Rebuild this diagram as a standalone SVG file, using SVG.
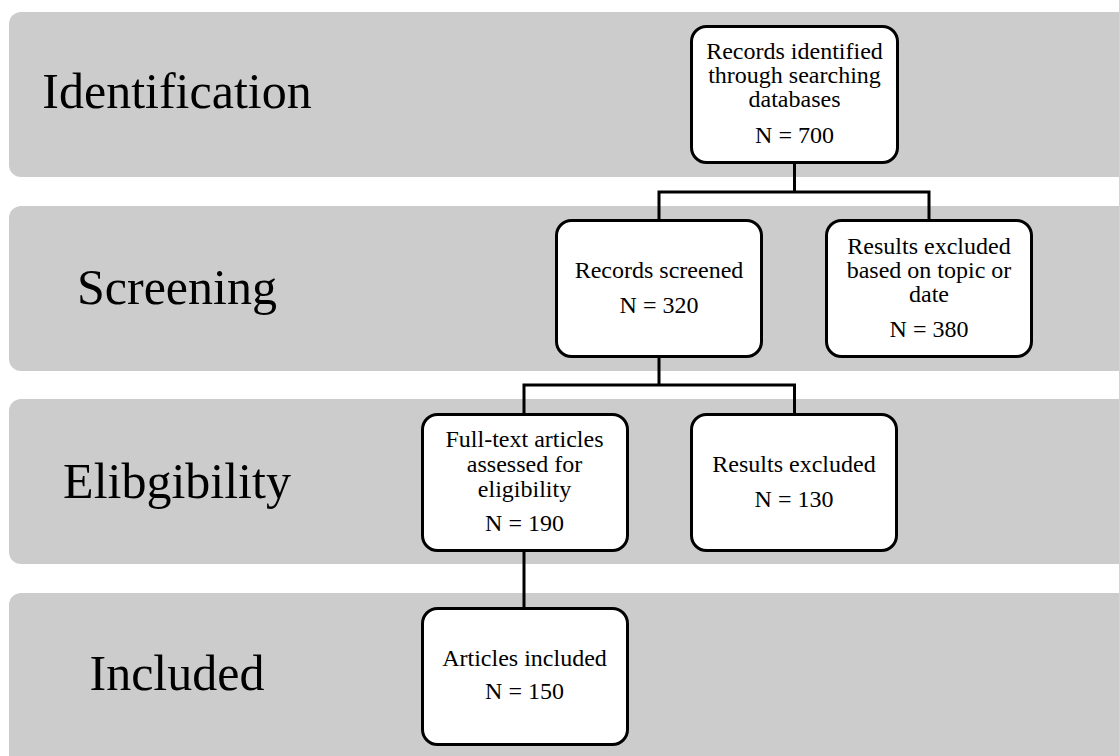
<svg xmlns="http://www.w3.org/2000/svg" width="1119" height="756" viewBox="0 0 1119 756">
  <style>
    .band { fill: #cccccc; }
    .stage { font-family: 'Liberation Serif', 'DejaVu Serif', serif; font-size: 50px; fill: #000; text-anchor: middle; }
    .box { fill: #ffffff; stroke: #000000; stroke-width: 3; }
    .lbl { font-family: 'Liberation Serif', 'DejaVu Serif', serif; font-size: 24px; fill: #000; text-anchor: middle; }
    .conn { fill: none; stroke: #000000; stroke-width: 3; }
  </style>
  <rect width="1119" height="756" fill="#ffffff"/>

  <g id="bands">
    <g id="band-identification">
      <rect class="band" x="9" y="12" width="1130" height="165" rx="12" ry="12"/>
      <text class="stage" x="177" y="108">Identification</text>
    </g>
    <g id="band-screening">
      <rect class="band" x="9" y="206" width="1130" height="165" rx="12" ry="12"/>
      <text class="stage" x="177" y="304">Screening</text>
    </g>
    <g id="band-eligibility">
      <rect class="band" x="9" y="399" width="1130" height="165" rx="12" ry="12"/>
      <text class="stage" x="177" y="498">Elibgibility</text>
    </g>
    <g id="band-included">
      <rect class="band" x="9" y="593" width="1130" height="180" rx="12" ry="12"/>
      <text class="stage" x="177" y="690">Included</text>
    </g>
  </g>

  <g id="connectors">
    <path class="conn" d="M794.5 163 V192 M659 192 H929.5 M659 190.5 V219 M929 190.5 V219"/>
    <path class="conn" d="M659 357 V385 M524 385 H795.5 M524 383.5 V413 M794.5 383.5 V413"/>
    <path class="conn" d="M524 551 V607"/>
  </g>

  <g id="node-identified">
    <rect class="box" x="691.5" y="26.5" width="206" height="136" rx="15" ry="15"/>
    <text class="lbl" x="794.5" y="59">Records identified</text>
    <text class="lbl" x="794.5" y="83">through searching</text>
    <text class="lbl" x="794.5" y="107">databases</text>
    <text class="lbl" x="794.5" y="143">N = 700</text>
  </g>

  <g id="node-screened">
    <rect class="box" x="556.5" y="220.5" width="205" height="136" rx="15" ry="15"/>
    <text class="lbl" x="659" y="278">Records screened</text>
    <text class="lbl" x="659" y="313">N = 320</text>
  </g>

  <g id="node-excluded-topic">
    <rect class="box" x="826.5" y="220.5" width="205" height="136" rx="15" ry="15"/>
    <text class="lbl" x="929" y="254">Results excluded</text>
    <text class="lbl" x="929" y="278">based on topic or</text>
    <text class="lbl" x="929" y="302">date</text>
    <text class="lbl" x="929" y="337">N = 380</text>
  </g>

  <g id="node-fulltext">
    <rect class="box" x="422.5" y="414.5" width="205" height="136" rx="15" ry="15"/>
    <text class="lbl" x="524.5" y="447">Full-text articles</text>
    <text class="lbl" x="524.5" y="472">assessed for</text>
    <text class="lbl" x="524.5" y="497">eligibility</text>
    <text class="lbl" x="524.5" y="531">N = 190</text>
  </g>

  <g id="node-excluded">
    <rect class="box" x="691.5" y="414.5" width="205" height="136" rx="15" ry="15"/>
    <text class="lbl" x="794" y="472">Results excluded</text>
    <text class="lbl" x="794" y="507">N = 130</text>
  </g>

  <g id="node-included">
    <rect class="box" x="422.5" y="608.5" width="205" height="136" rx="15" ry="15"/>
    <text class="lbl" x="524.5" y="666">Articles included</text>
    <text class="lbl" x="524.5" y="699">N = 150</text>
  </g>
</svg>
